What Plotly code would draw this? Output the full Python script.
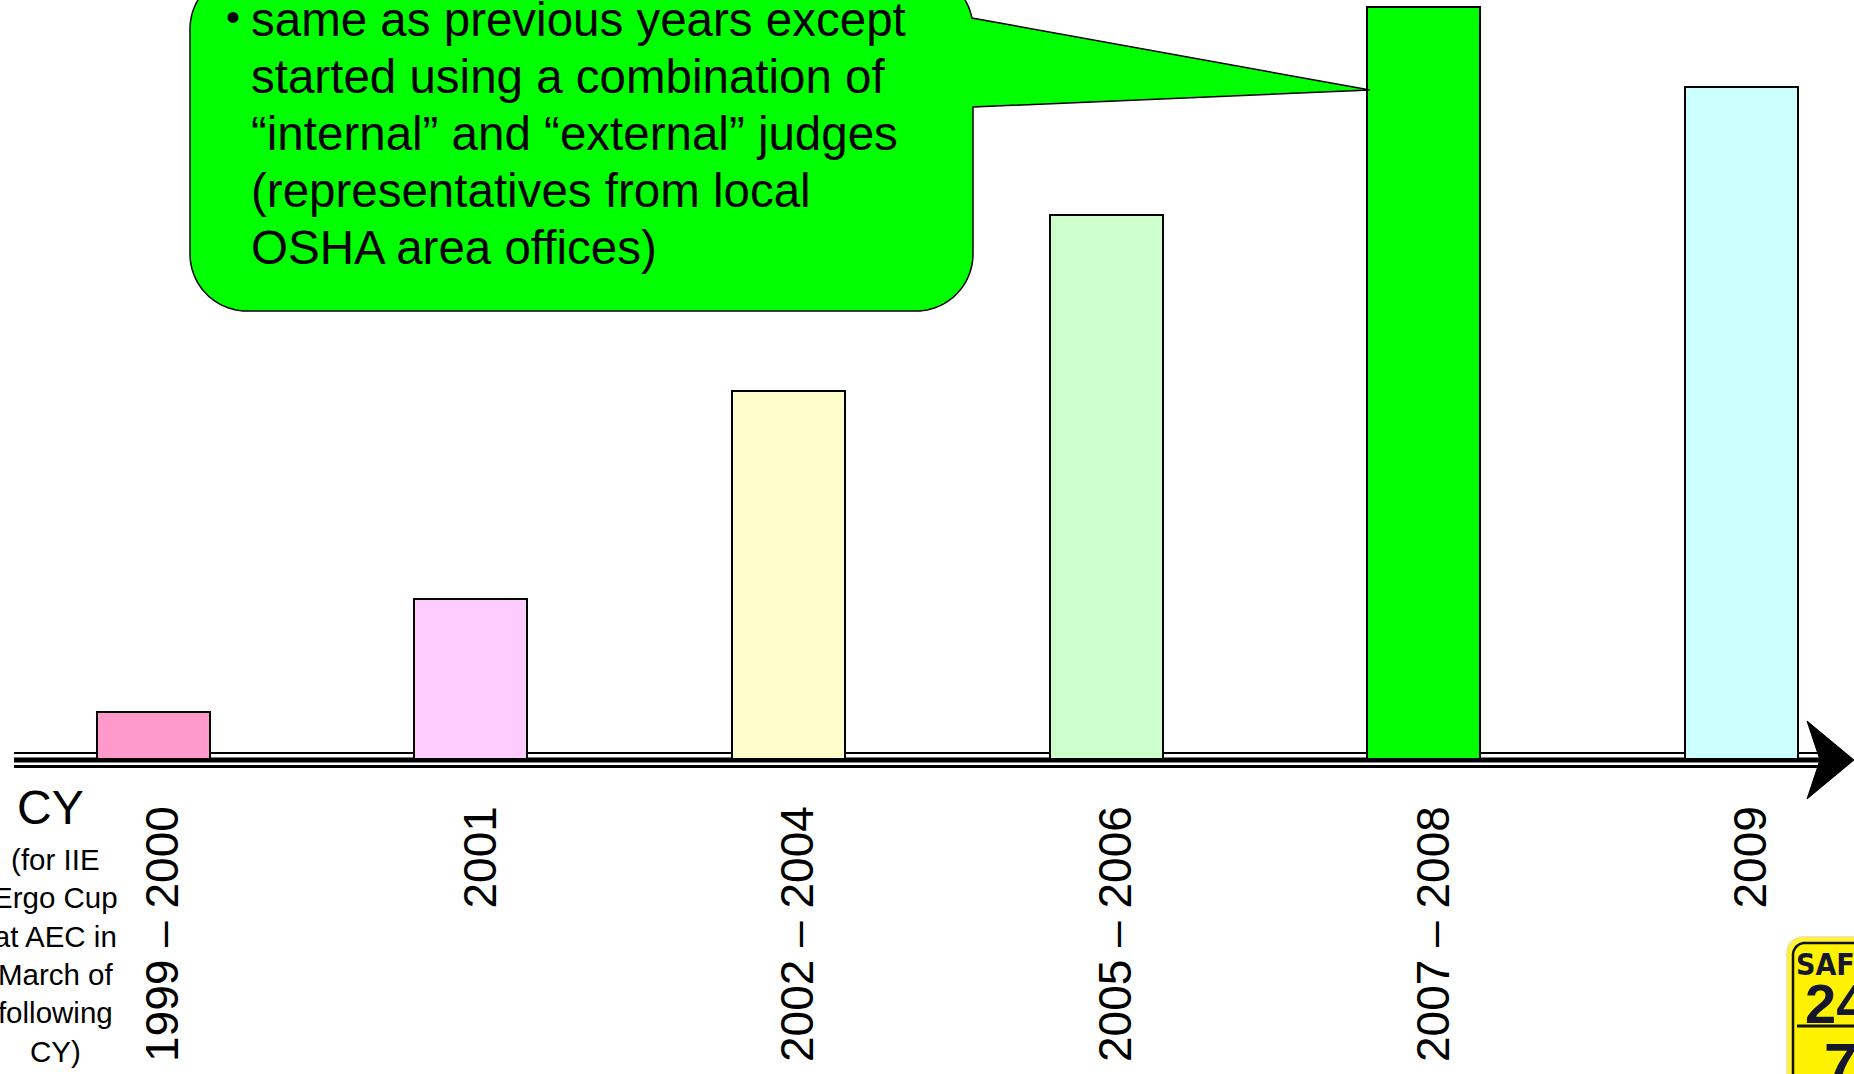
import math
import plotly.graph_objects as go

# ---------------- data ----------------
categories = ["1999 – 2000", "2001", "2002 – 2004", "2005 – 2006", "2007 – 2008", "2009"]
values = [47, 160, 368, 544, 752, 672]          # relative bar heights
bar_colors = ["#FF99CC", "#FFCCFF", "#FFFFCC", "#CCFFCC", "#00FF00", "#CCFFFF"]
callout_lines = [
    "same as previous years except",
    "started using a combination of",
    "“internal” and “external” judges",
    "(representatives from local",
    "OSHA area offices)",
]
axis_title = "CY"
axis_note_lines = ["(for IIE", "Ergo Cup", "at AEC in", "March of", "following", "CY)"]

# ---------------- geometry helpers (pixel -> paper) ----------------
W, H = 1854, 1074
BASE = 759  # pixel row of the plot bottom (bar baseline)
FONT = "Arial, Liberation Sans, sans-serif"


def X(px):
    return px / W


def Y(py):
    return (BASE - py) / BASE


def path_from(points):
    s = "M " + " L ".join(f"{X(x):.5f},{Y(y):.5f}" for x, y in points) + " Z"
    return s


def arc(cx, cy, r, a0, a1, n=24):
    pts = []
    for i in range(n + 1):
        a = math.radians(a0 + (a1 - a0) * i / n)
        pts.append((cx + r * math.cos(a), cy + r * math.sin(a)))
    return pts


fig = go.Figure()
fig.add_trace(go.Bar(
    x=categories, y=values, width=0.3557, offset=-0.2093,
    marker=dict(color=bar_colors, line=dict(color="black", width=2)),
    hoverinfo="skip",
))

shapes = []
# triple axis line
for yy, lw in [(753, 2), (760, 5), (766.5, 3)]:
    shapes.append(dict(type="line", xref="paper", yref="paper",
                       x0=X(14), x1=X(1822), y0=Y(yy), y1=Y(yy),
                       line=dict(color="black", width=lw), layer="below"))
# arrow head
shapes.append(dict(type="path", xref="paper", yref="paper",
                   path=path_from([(1807, 721), (1854, 760), (1807, 799), (1820, 760)]),
                   fillcolor="black", line=dict(color="black", width=1), layer="above"))

# callout
L, R, T, B, r = 190, 973, -28, 311, 57
pts = []
pts += arc(R - r, T + r, r, -90, -11.1)
pts += [(1370, 90), (R, 107)]
pts += arc(R - r, B - r, r, 0, 90)
pts += arc(L + r, B - r, r, 90, 180)
pts += arc(L + r, T + r, r, 180, 270)
shapes.append(dict(type="path", xref="paper", yref="paper", path=path_from(pts),
                   fillcolor="#00FF00", line=dict(color="black", width=1.5), layer="above"))

# logo (bottom right)
lp = []
lp += arc(1787 + 16, 937 + 16, 16, 180, 270)
lp += [(1900, 937), (1900, 1100), (1787, 1100)]
shapes.append(dict(type="path", xref="paper", yref="paper", path=path_from(lp),
                   fillcolor="#FFF23A", line=dict(color="#F4E98A", width=2), layer="above"))
lp2 = []
lp2 += arc(1793 + 12, 943 + 12, 12, 180, 270)
lp2 += [(1900, 943), (1900, 1100), (1793, 1100)]
shapes.append(dict(type="path", xref="paper", yref="paper", path=path_from(lp2),
                   fillcolor="#FFF200", line=dict(color="#111", width=2.5), layer="above"))
shapes.append(dict(type="line", xref="paper", yref="paper",
                   x0=X(1797), x1=X(1860), y0=Y(1026), y1=Y(1026),
                   line=dict(color="#111", width=3), layer="above"))

annotations = []
# bullet + callout text lines
annotations.append(dict(xref="paper", yref="paper", x=X(233), y=Y(17), text="•",
                        showarrow=False, xanchor="center", yanchor="middle",
                        font=dict(family=FONT, size=40, color="black")))
for i, line in enumerate(callout_lines):
    annotations.append(dict(xref="paper", yref="paper", x=X(249), y=Y(19 + 57.2 * i),
                            text=line, showarrow=False, xanchor="left", yanchor="middle",
                            font=dict(family=FONT, size=47.5, color="black")))
# left axis title
annotations.append(dict(xref="paper", yref="paper", x=X(50), y=Y(807), text=axis_title,
                        showarrow=False, xanchor="center", yanchor="middle",
                        font=dict(family=FONT, size=48, color="black")))
annotations.append(dict(xref="paper", yref="paper", x=X(55), y=Y(955), text="<br>".join(axis_note_lines),
                        showarrow=False, xanchor="center", yanchor="middle", align="center",
                        font=dict(family=FONT, size=29.5, color="black")))
# logo text
annotations.append(dict(xref="paper", yref="paper", x=X(1794), y=Y(965), text="<b>SAFE</b>",
                        showarrow=False, xanchor="left", yanchor="middle",
                        font=dict(family="DejaVu Sans Condensed, Liberation Sans Narrow, Arial", size=30, color="#15152b")))
annotations.append(dict(xref="paper", yref="paper", x=X(1803), y=Y(1003), text="<b>24</b>",
                        showarrow=False, xanchor="left", yanchor="middle",
                        font=dict(family=FONT, size=56, color="#15152b")))
annotations.append(dict(xref="paper", yref="paper", x=X(1822), y=Y(1064), text="<b>7</b>",
                        showarrow=False, xanchor="left", yanchor="middle",
                        font=dict(family=FONT, size=60, color="#15152b")))

fig.update_layout(
    width=W, height=H, autosize=False,
    margin=dict(l=0, r=0, t=0, b=H - BASE, pad=0),
    paper_bgcolor="white", plot_bgcolor="white",
    showlegend=False, bargap=0,
    shapes=shapes, annotations=annotations,
    xaxis=dict(type="category", range=[-0.5132, 5.3225], showgrid=False, zeroline=False,
               showline=False, ticks="", tickangle=-90, ticklabelstandoff=37,
               tickfont=dict(family=FONT, size=46, color="black")),
    yaxis=dict(range=[0, BASE], visible=False, showgrid=False, zeroline=False),
)

fig.write_html("out.html", config={"displayModeBar": False},
               post_script="document.body.style.margin='0';document.body.style.overflow='hidden';")
